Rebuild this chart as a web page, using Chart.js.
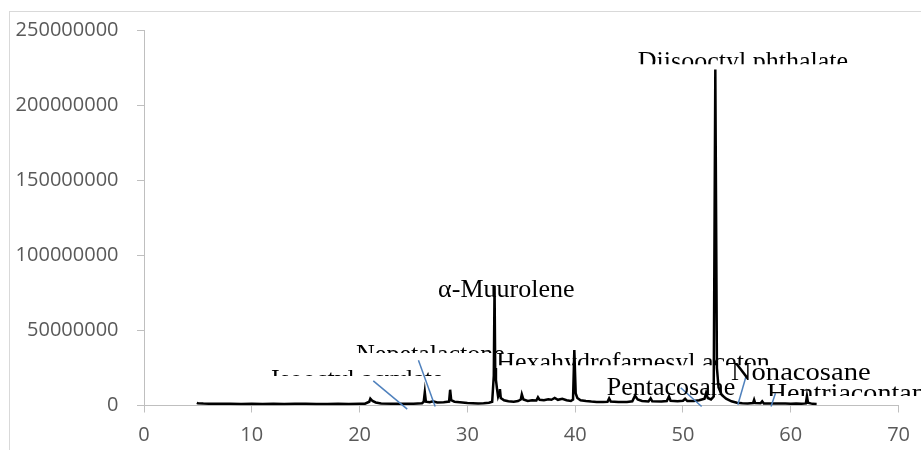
<!DOCTYPE html>
<html>
<head>
    <meta charset="utf-8">
    <title>Chromatogram</title>
    <script src="https://cdn.jsdelivr.net/npm/chart.js"></script>
    <style>
        body { margin: 0; padding: 0; background: #fff; }
        #chart { display: block; }
    </style>
</head>
<body>
    <canvas id="chart" width="921" height="450"></canvas>
    <script>
        // retention time (min) and detector response
        const retentionTimes = [
            4.9, 5.0, 5.5, 6.0, 7.0, 8.0, 9.0, 10.0, 11.0, 12.0, 13.0, 14.0, 15.0, 16.0, 17.0, 18.0, 19.0, 20.0,
            20.5, 20.9, 21.0, 21.2, 21.5, 22.0, 23.0, 24.0, 25.0, 25.8, 25.95, 26.05, 26.15, 26.5, 26.8, 27.2,
            27.8, 28.3, 28.4, 28.5, 28.8, 29.3, 30.0, 30.5, 31.0, 31.5, 32.0, 32.3, 32.45, 32.52, 32.58, 32.65,
            32.75, 32.85, 32.95, 33.02, 33.1, 33.4, 33.8, 34.3, 34.7, 34.95, 35.05, 35.2, 35.6, 36.0, 36.4, 36.55,
            36.7, 37.1, 37.5, 37.8, 38.1, 38.4, 38.8, 39.2, 39.6, 39.8, 39.92, 40.05, 40.2, 40.5, 41.0, 41.5,
            42.0, 42.6, 43.0, 43.15, 43.3, 44.0, 44.8, 45.3, 45.55, 45.8, 46.2, 46.8, 47.0, 47.15, 48.0, 48.5,
            48.7, 48.85, 49.5, 50.0, 50.2, 50.4, 51.0, 51.5, 52.0, 52.15, 52.3, 52.6, 52.85, 53.0, 53.15, 53.3,
            53.6, 54.0, 54.5, 55.0, 55.5, 56.0, 56.5, 56.6, 56.7, 57.2, 57.35, 57.5, 58.0, 58.5, 59.0, 59.5,
            60.0, 60.5, 61.0, 61.4, 61.5, 61.6, 62.0, 62.4
        ];
        const intensities = [
            1800000, 1500000, 1300000, 1200000, 1100000, 1200000, 1000000, 1100000, 1000000, 1100000, 1000000, 1100000, 1200000, 1000000, 1000000, 1100000, 1000000, 1100000,
            1200000, 2500000, 4600000, 3000000, 2000000, 1400000, 1200000, 1100000, 1200000, 1500000, 2500000, 8800000, 2500000, 2200000, 2800000, 2000000,
            2200000, 2600000, 10500000, 3500000, 2500000, 2200000, 1600000, 1500000, 1400000, 1500000, 1800000, 2500000, 20000000, 80000000, 25000000, 17000000,
            11000000, 6000000, 8000000, 11000000, 5000000, 3500000, 2800000, 2500000, 3000000, 4000000, 7500000, 4000000, 3000000, 3500000, 3300000, 5500000,
            3800000, 3500000, 4200000, 3800000, 5000000, 3800000, 4500000, 3500000, 3000000, 4000000, 37000000, 8000000, 5000000, 3500000, 3000000, 2600000,
            2400000, 2300000, 2500000, 4800000, 2600000, 2300000, 2400000, 2800000, 6500000, 4000000, 3000000, 2700000, 4800000, 2800000, 2600000, 3000000,
            6000000, 3200000, 2800000, 3200000, 4500000, 3000000, 3000000, 3500000, 4500000, 8500000, 5000000, 4000000, 6000000, 224000000, 25000000, 12000000,
            7000000, 4500000, 2800000, 1800000, 1500000, 1400000, 1600000, 3800000, 1600000, 1500000, 2800000, 1400000, 1300000, 1400000, 1300000, 1300000,
            1200000, 1300000, 1200000, 1400000, 6200000, 1800000, 1100000, 1000000
        ];

        const xTicks = [0, 10, 20, 30, 40, 50, 60, 70];
        const yTicks = [0, 50000000, 100000000, 150000000, 200000000, 250000000];

        // peak labels: name, anchor time, anchor response (text baseline)
        const peakNames = ['Isooctyl acrylate', 'Nepetalactone', 'α-Muurolene', 'Hexahydrofarnesyl aceton',
            'Pentacosane', 'Diisooctyl phthalate', 'Nonacosane', 'Hentriacontane'];
        const peakLabelTimes = [19.79, 26.57, 33.61, 45.37, 48.89, 55.56, 60.93, 65.72];
        const peakLabelValues = [12400000, 29100000, 72200000, 23800000, 7000000, 224300000, 17200000, 3200000];

        // leader lines: [time1, value1, time2, value2]
        const leaderLines = [
            [21.27, 16400000, 24.42, -2400000],
            [25.46, 30100000, 27.01, -660000],
            [49.79, 11800000, 51.73, -660000],
            [55.86, 19700000, 55.09, 460000],
            [58.58, 8200000, 58.17, -660000]
        ];

        const points = retentionTimes.map((t, i) => ({ x: t, y: intensities[i] }));

        // text cut off under these many px above the baseline (as in the source)
        const labelCut = [10.8, 8.8, null, 4.5, null, 4.8, null, 4.8];
        // the last two labels come out wider in the source
        const labelStretch = [1, 1, 1, 1, 1, 1, 1.1, 1.08];

        const tickFont = { family: "'Open Sans'", size: 20 };
        const axisGray = '#bfbfbf';

        const frame = {
            id: 'frame',
            beforeDraw(chart) {
                const ctx = chart.ctx;
                ctx.save();
                ctx.fillStyle = '#fff';
                ctx.fillRect(0, 0, chart.width, chart.height);
                ctx.strokeStyle = '#d9d9d9';
                ctx.lineWidth = 1;
                ctx.strokeRect(9.5, 11.5, 1000, 1000);
                ctx.restore();
            }
        };

        const peakLabels = {
            id: 'peakLabels',
            afterDatasetsDraw(chart) {
                const ctx = chart.ctx;
                const xs = chart.scales.x, ys = chart.scales.y;
                ctx.save();
                ctx.strokeStyle = '#4f81bd';
                ctx.lineWidth = 1.5;
                leaderLines.forEach(l => {
                    ctx.beginPath();
                    ctx.moveTo(xs.getPixelForValue(l[0]), ys.getPixelForValue(l[1]));
                    ctx.lineTo(xs.getPixelForValue(l[2]), ys.getPixelForValue(l[3]));
                    ctx.stroke();
                });
                ctx.fillStyle = '#000';
                ctx.font = "26px 'Liberation Serif'";
                ctx.textAlign = 'center';
                ctx.textBaseline = 'alphabetic';
                peakNames.forEach((name, i) => {
                    const px = xs.getPixelForValue(peakLabelTimes[i]);
                    const py = ys.getPixelForValue(peakLabelValues[i]);
                    ctx.save();
                    if (labelCut[i] !== null) {
                        ctx.beginPath();
                        ctx.rect(0, 0, chart.width, py - labelCut[i]);
                        ctx.clip();
                    }
                    ctx.translate(px, py);
                    ctx.scale(labelStretch[i], 1);
                    ctx.fillText(name, 0, 0);
                    ctx.restore();
                });
                ctx.restore();
            }
        };

        new Chart(document.getElementById('chart'), {
            type: 'line',
            data: {
                datasets: [{
                    data: points,
                    borderColor: '#000',
                    borderWidth: 2.5,
                    pointRadius: 0,
                    tension: 0,
                    fill: false
                }]
            },
            options: {
                responsive: false,
                animation: false,
                layout: { padding: { top: 25, right: 21, left: 0, bottom: 0 } },
                plugins: { legend: { display: false }, tooltip: { enabled: false } },
                scales: {
                    x: {
                        type: 'linear',
                        min: xTicks[0],
                        max: xTicks[xTicks.length - 1],
                        afterBuildTicks: s => { s.ticks = xTicks.map(v => ({ value: v })); },
                        ticks: { font: tickFont, color: '#595959', padding: 11, maxRotation: 0 },
                        grid: { drawOnChartArea: false, color: axisGray, tickLength: 7 },
                        border: { color: axisGray },
                        afterFit: s => { s.height = 44.5; }
                    },
                    y: {
                        min: yTicks[0],
                        max: yTicks[yTicks.length - 1],
                        afterBuildTicks: s => { s.ticks = yTicks.map(v => ({ value: v })); },
                        ticks: { font: tickFont, color: '#595959', padding: 18.5, callback: v => String(v) },
                        grid: { drawOnChartArea: false, color: axisGray, tickLength: 7 },
                        border: { color: axisGray },
                        afterFit: s => { s.width = 144; }
                    }
                }
            },
            plugins: [frame, peakLabels]
        });
    </script>
</body>
</html>
